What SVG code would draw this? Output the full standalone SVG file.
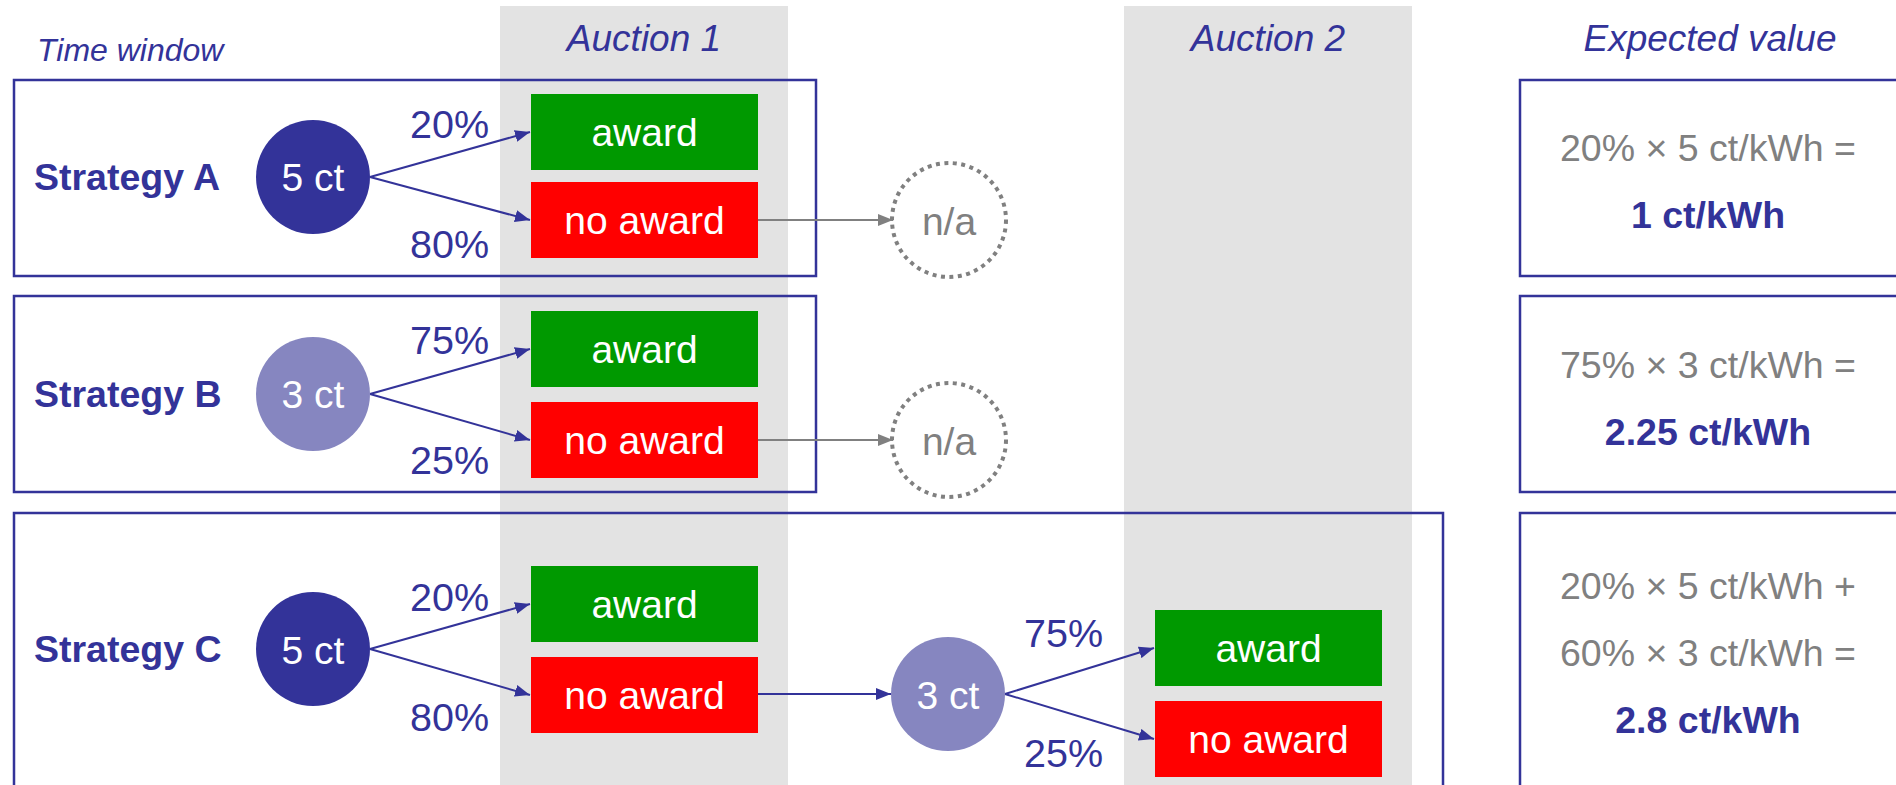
<svg xmlns="http://www.w3.org/2000/svg" width="1896" height="785" viewBox="0 0 1896 785">
<style>
.t{font-family:"Liberation Sans",Arial,sans-serif}
.hdr{font-size:37px;font-style:italic;fill:#333399}
.strat{font-size:37.5px;font-weight:bold;fill:#333399}
.pct{font-size:39.5px;fill:#333399}
.ct{font-size:39px;fill:#ffffff;text-anchor:middle}
.box{fill:none;stroke:#333399;stroke-width:2.5}
.evbox{fill:#ffffff;stroke:#333399;stroke-width:2.5}
.aw{fill:#009900}
.naw{fill:#ff0000}
.bt{font-size:39px;fill:#ffffff;text-anchor:middle}
.dark{fill:#333399}
.light{fill:#8686c0}
.na{fill:none;stroke:#808080;stroke-width:4;stroke-dasharray:4 4.5}
.natxt{font-size:39px;fill:#808080;text-anchor:middle}
.ev{font-size:37.5px;fill:#808080;text-anchor:middle}
.evb{font-size:37.5px;font-weight:bold;fill:#333399;text-anchor:middle}
.conn{fill:none;stroke:#333399;stroke-width:2;marker-end:url(#ab)}
.connG{fill:none;stroke:#808080;stroke-width:2;marker-end:url(#ag)}
</style>
<defs>
<marker id="ab" viewBox="0 0 15 12" refX="15" refY="6" markerWidth="15" markerHeight="12" markerUnits="userSpaceOnUse" orient="auto"><path d="M0,0 L15,6 L0,12 z" fill="#333399"/></marker>
<marker id="ag" viewBox="0 0 15 12" refX="15" refY="6" markerWidth="15" markerHeight="12" markerUnits="userSpaceOnUse" orient="auto"><path d="M0,0 L15,6 L0,12 z" fill="#808080"/></marker>
</defs>
<rect width="1896" height="785" fill="#ffffff"/>
<g id="bands">
<rect x="500" y="6" width="288" height="779" fill="#e3e3e3"/>
<rect x="1124" y="6" width="288" height="779" fill="#e3e3e3"/>
</g>
<g id="headers">
<text class="t hdr" x="37" y="61" style="font-size:32px">Time window</text>
<text class="t hdr" x="644" y="51" text-anchor="middle">Auction 1</text>
<text class="t hdr" x="1268" y="51" text-anchor="middle">Auction 2</text>
<text class="t hdr" x="1710" y="51" text-anchor="middle">Expected value</text>
</g>
<g id="strategyA">
<rect class="box" x="14" y="80" width="802" height="196"/>
<text class="t strat" x="34" y="190">Strategy A</text>
</g>
<g id="strategyB">
<rect class="box" x="14" y="296" width="802" height="196"/>
<text class="t strat" x="34" y="407">Strategy B</text>
</g>
<g id="strategyC">
<rect class="box" x="14" y="513" width="1429" height="280"/>
<text class="t strat" x="34" y="662">Strategy C</text>
</g>
<g id="connectors">
<line class="conn" x1="370" y1="177" x2="530" y2="132"/>
<line class="conn" x1="370" y1="177" x2="530" y2="220"/>
<line class="connG" x1="758" y1="220" x2="893" y2="220"/>
<line class="conn" x1="370" y1="394" x2="530" y2="349"/>
<line class="conn" x1="370" y1="394" x2="530" y2="440"/>
<line class="connG" x1="758" y1="440" x2="893" y2="440"/>
<line class="conn" x1="370" y1="649" x2="530" y2="604"/>
<line class="conn" x1="370" y1="649" x2="530" y2="695"/>
<line class="conn" x1="758" y1="694" x2="891" y2="694"/>
<line class="conn" x1="1005" y1="694" x2="1154" y2="648"/>
<line class="conn" x1="1005" y1="694" x2="1154" y2="739"/>
</g>
<g id="pctLabels">
<text class="t pct" x="410" y="138">20%</text>
<text class="t pct" x="410" y="258">80%</text>
<text class="t pct" x="410" y="354">75%</text>
<text class="t pct" x="410" y="474">25%</text>
<text class="t pct" x="410" y="611">20%</text>
<text class="t pct" x="410" y="731">80%</text>
<text class="t pct" x="1024" y="647">75%</text>
<text class="t pct" x="1024" y="767">25%</text>
</g>
<g id="bidA">
<circle class="dark" cx="313" cy="177" r="57"/>
<text class="t ct" x="313" y="191">5 ct</text>
</g>
<g id="bidB">
<circle class="light" cx="313" cy="394" r="57"/>
<text class="t ct" x="313" y="408">3 ct</text>
</g>
<g id="bidC1">
<circle class="dark" cx="313" cy="649" r="57"/>
<text class="t ct" x="313" y="664">5 ct</text>
</g>
<g id="bidC2">
<circle class="light" cx="948" cy="694" r="57"/>
<text class="t ct" x="948" y="709">3 ct</text>
</g>
<g id="awardA">
<rect class="aw" x="531" y="94" width="227" height="76"/>
<text class="t bt" x="644.5" y="146">award</text>
</g>
<g id="noAwardA">
<rect class="naw" x="531" y="182" width="227" height="76"/>
<text class="t bt" x="644.5" y="234">no award</text>
</g>
<g id="awardB">
<rect class="aw" x="531" y="311" width="227" height="76"/>
<text class="t bt" x="644.5" y="363">award</text>
</g>
<g id="noAwardB">
<rect class="naw" x="531" y="402" width="227" height="76"/>
<text class="t bt" x="644.5" y="454">no award</text>
</g>
<g id="awardC1">
<rect class="aw" x="531" y="566" width="227" height="76"/>
<text class="t bt" x="644.5" y="618">award</text>
</g>
<g id="noAwardC1">
<rect class="naw" x="531" y="657" width="227" height="76"/>
<text class="t bt" x="644.5" y="709">no award</text>
</g>
<g id="awardC2">
<rect class="aw" x="1155" y="610" width="227" height="76"/>
<text class="t bt" x="1268.5" y="662">award</text>
</g>
<g id="noAwardC2">
<rect class="naw" x="1155" y="701" width="227" height="76"/>
<text class="t bt" x="1268.5" y="753">no award</text>
</g>
<g id="naA">
<circle class="na" cx="949" cy="220" r="57"/>
<text class="t natxt" x="949" y="235">n/a</text>
</g>
<g id="naB">
<circle class="na" cx="949" cy="440" r="57"/>
<text class="t natxt" x="949" y="455">n/a</text>
</g>
<g id="evA">
<rect class="evbox" x="1520" y="80" width="390" height="196"/>
<text class="t ev" x="1708" y="161">20% × 5 ct/kWh =</text>
<text class="t evb" x="1708" y="228">1 ct/kWh</text>
</g>
<g id="evB">
<rect class="evbox" x="1520" y="296" width="390" height="196"/>
<text class="t ev" x="1708" y="378">75% × 3 ct/kWh =</text>
<text class="t evb" x="1708" y="445">2.25 ct/kWh</text>
</g>
<g id="evC">
<rect class="evbox" x="1520" y="513" width="390" height="280"/>
<text class="t ev" x="1708" y="599">20% × 5 ct/kWh +</text>
<text class="t ev" x="1708" y="666">60% × 3 ct/kWh =</text>
<text class="t evb" x="1708" y="733">2.8 ct/kWh</text>
</g>
</svg>
